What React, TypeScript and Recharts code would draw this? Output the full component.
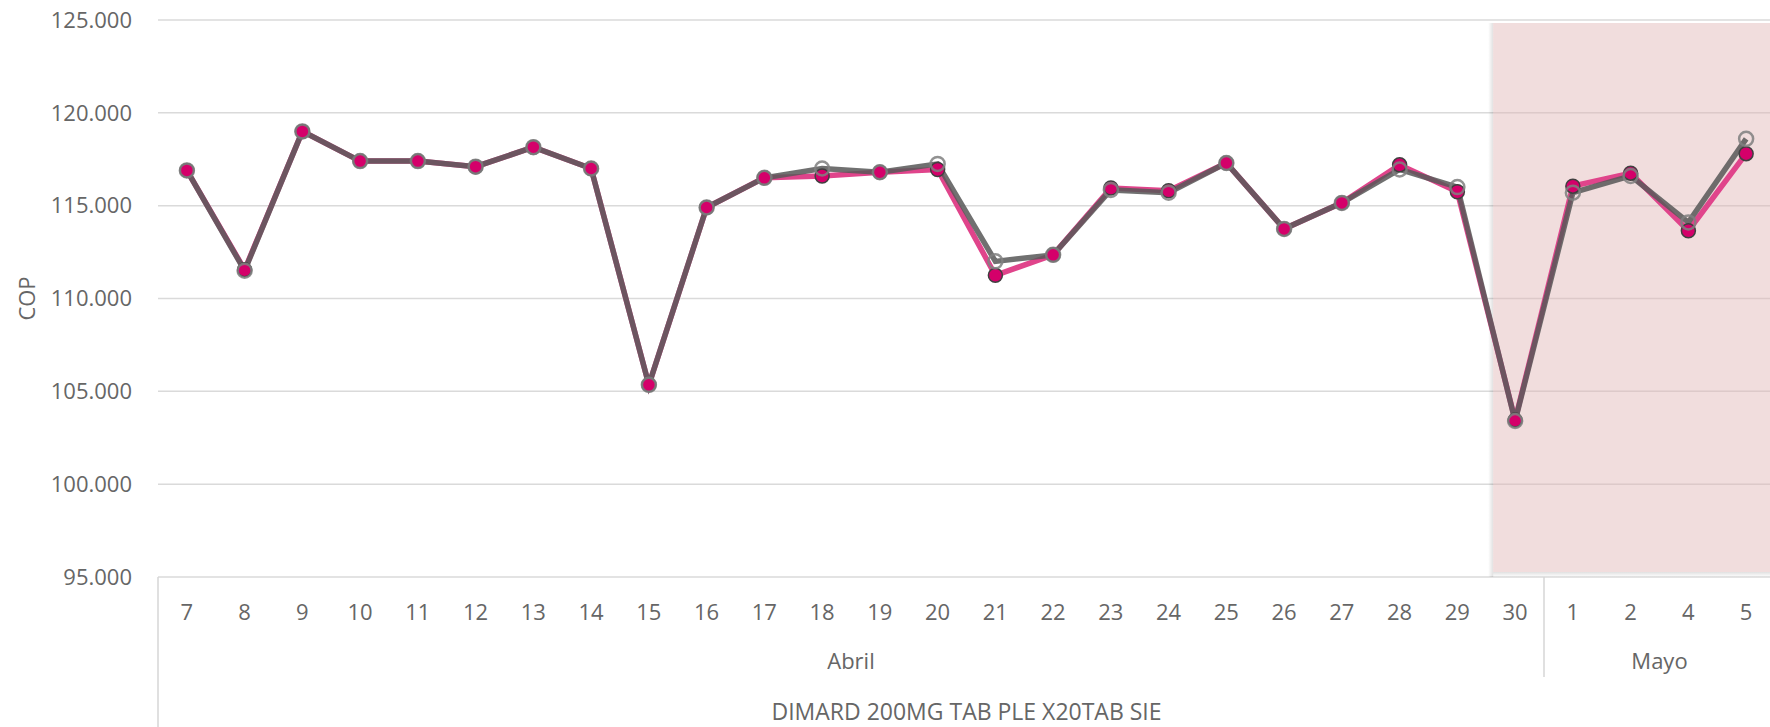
import { LineChart, Line, XAxis, YAxis, CartesianGrid, ReferenceArea } from 'recharts';

const abrilDays = ['7', '8', '9', '10', '11', '12', '13', '14', '15', '16', '17', '18', '19', '20', '21', '22', '23', '24', '25', '26', '27', '28', '29', '30'];
const mayoDays = ['1', '2', '4', '5'];

const months = [
  { name: 'Abril', days: abrilDays },
  { name: 'Mayo', days: mayoDays },
];

const precio = [
  116900, 111550, 119000, 117400, 117400, 117100, 118150, 117000, 105350, 114900, 116500, 116600,
  116800, 116950, 111250, 112350, 115950, 115800, 117300, 113750, 115150, 117200, 115750, 103450,
  116050, 116750, 113650, 117800,
];

const precioRef = [
  116900, 111500, 119000, 117400, 117400, 117100, 118150, 117000, 105350, 114900, 116500, 117000,
  116800, 117250, 112000, 112350, 115850, 115700, 117300, 113750, 115150, 116950, 116000, 103400,
  115700, 116600, 114100, 118600,
];

const yTicks = [95000, 100000, 105000, 110000, 115000, 120000, 125000];
const producto = 'DIMARD 200MG TAB PLE X20TAB SIE';
const highlightFrom = '30';
const highlightTo = '5';

const CHART_W = 1775;
const CHART_H = 727;
const Y_W = 158;
const X_H = 150;
const FONT = '"Open Sans", "Noto Sans", sans-serif';
const TEXT = '#666666';

const days = months.flatMap((m) => m.days);
const data = days.map((d, i) => ({ day: d, precio: precio[i], precioRef: precioRef[i] }));
const BAND = (CHART_W - Y_W) / days.length;

// index -> what goes under the tick (separators, month names)
const groupStarts: Record<number, boolean> = {};
const groupLabels: Record<number, { name: string; shift: number }> = {};
let start = 0;
months.forEach((m) => {
  groupStarts[start] = true;
  const n = m.days.length;
  const mid = start + Math.floor((n - 1) / 2);
  groupLabels[mid] = { name: m.name, shift: n % 2 === 0 ? BAND / 2 : 0 };
  start += n;
});

function DayTick(props: any) {
  const { x, y, payload } = props;
  const i = payload.index;
  const lbl = groupLabels[i];
  return (
    <g>
      <text x={x} y={y + 43} textAnchor="middle" fill={TEXT} fontSize={22} fontFamily={FONT}>
        {payload.value}
      </text>
      {groupStarts[i] && (
        <line
          x1={x - BAND / 2}
          x2={x - BAND / 2}
          y1={y}
          y2={i === 0 ? y + X_H : y + 100}
          stroke="#d6d6d6"
          strokeWidth={1.5}
        />
      )}
      {lbl && (
        <text x={x + lbl.shift} y={y + 92} textAnchor="middle" fill={TEXT} fontSize={22} fontFamily={FONT}>
          {lbl.name}
        </text>
      )}
    </g>
  );
}

// translucent panel so the grid still shows through, with a soft shadow on the left and bottom edges
function HighlightShape(props: any) {
  const { x, y, width, height } = props;
  const left = x + BAND * 0.12;
  const top = y + 3;
  const h = height - 8;
  return (
    <g>
      <rect x={left - 5} y={top} width={5} height={h + 5} fill="url(#shadowLeft)" />
      <rect x={left} y={top + h} width={width} height={5} fill="url(#shadowBottom)" />
      <rect x={left} y={top} width={width} height={h} fill="rgb(225,180,180)" fillOpacity={0.45} />
    </g>
  );
}

export default function App() {
  return (
    <div style={{ position: 'fixed', left: 0, top: 0, width: 1770, height: CHART_H, overflow: 'hidden', background: '#fff' }}>
      <LineChart width={CHART_W} height={CHART_H} data={data} margin={{ top: 20, right: 0, left: 0, bottom: 0 }}>
        <defs>
          <linearGradient id="shadowLeft" x1="0" y1="0" x2="1" y2="0">
            <stop offset="0%" stopColor="#000" stopOpacity={0} />
            <stop offset="100%" stopColor="#000" stopOpacity={0.12} />
          </linearGradient>
          <linearGradient id="shadowBottom" x1="0" y1="0" x2="0" y2="1">
            <stop offset="0%" stopColor="#000" stopOpacity={0.12} />
            <stop offset="100%" stopColor="#000" stopOpacity={0} />
          </linearGradient>
        </defs>
        <CartesianGrid vertical={false} stroke="#dadada" strokeWidth={1.5} />
        <XAxis
          dataKey="day"
          scale="band"
          height={X_H}
          interval={0}
          axisLine={false}
          tickLine={false}
          tickSize={0}
          tickMargin={0}
          tick={<DayTick />}
          label={{
            content: ({ viewBox }: any) => (
              <text
                x={viewBox.x + viewBox.width / 2}
                y={viewBox.y + viewBox.height - 7}
                textAnchor="middle"
                fill={TEXT}
                fontSize={23}
                fontFamily={FONT}
              >
                {producto}
              </text>
            ),
          }}
        />
        <YAxis
          width={Y_W}
          domain={[95000, 125000]}
          ticks={yTicks}
          axisLine={false}
          tickLine={false}
          tickSize={0}
          tickMargin={26}
          tick={{ fill: TEXT, fontSize: 22, fontFamily: FONT }}
          tickFormatter={(v: number) => (v / 1000).toFixed(3)}
          label={{
            content: ({ viewBox }: any) => (
              <text
                x={viewBox.x + 26}
                y={viewBox.y + viewBox.height / 2}
                transform={`rotate(-90, ${viewBox.x + 26}, ${viewBox.y + viewBox.height / 2})`}
                textAnchor="middle"
                dominantBaseline="central"
                fill={TEXT}
                fontSize={22}
                fontFamily={FONT}
              >
                COP
              </text>
            ),
          }}
        />
        <ReferenceArea x1={highlightFrom} x2={highlightTo} shape={<HighlightShape />} />
        <Line
          type="linear"
          dataKey="precio"
          stroke="#e0448b"
          strokeWidth={5.5}
          dot={{ r: 7, fill: '#d4006a', stroke: '#404040', strokeWidth: 1.5 }}
          activeDot={false}
          isAnimationActive={false}
        />
        <Line
          type="linear"
          dataKey="precioRef"
          stroke="#595959"
          strokeOpacity={0.86}
          strokeWidth={5.5}
          dot={{ r: 7, fill: 'none', stroke: '#808080', strokeWidth: 2.5 }}
          activeDot={false}
          isAnimationActive={false}
        />
      </LineChart>
    </div>
  );
}
